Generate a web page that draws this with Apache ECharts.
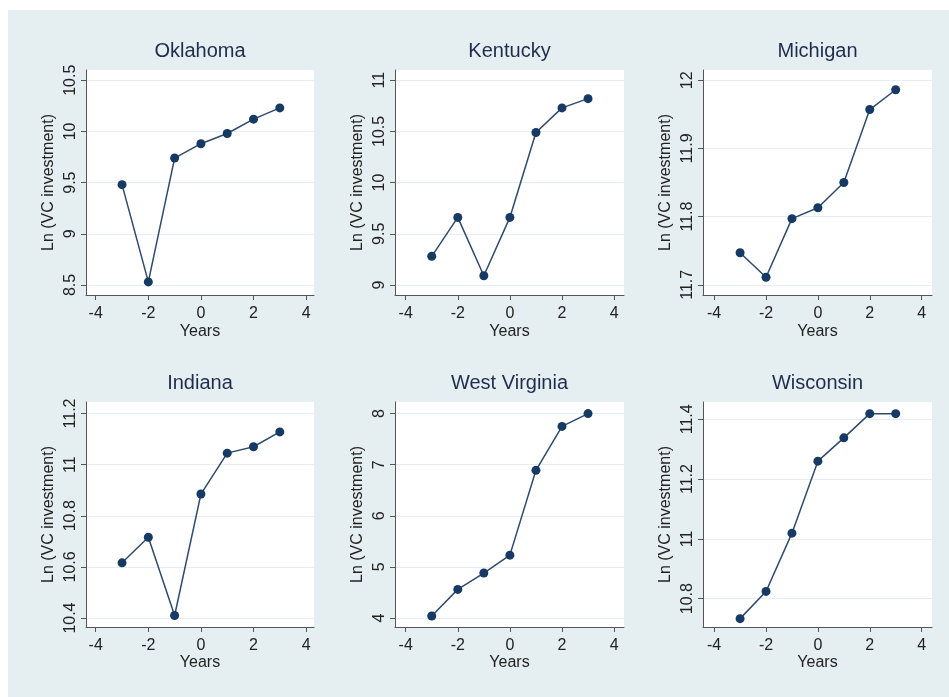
<!DOCTYPE html>
<html>
<head>
<meta charset="utf-8">
<script src="https://cdn.jsdelivr.net/npm/echarts@6/dist/echarts.min.js"></script>
<style>
html,body{margin:0;padding:0;background:#ffffff;}
#bg{position:absolute;left:8px;top:10px;width:941px;height:687px;background:#e5eef1;}
#chart{position:absolute;left:0;top:0;width:949px;height:697px;}
</style>
</head>
<body>
<div id="bg"></div>
<div id="chart"></div>
<script>
// ---- data ----
const years = [-3, -2, -1, 0, 1, 2, 3];
const stateNames = ["Oklahoma", "Kentucky", "Michigan", "Indiana", "West Virginia", "Wisconsin"];
const oklahoma = [9.48, 8.53, 9.74, 9.88, 9.98, 10.12, 10.23];
const kentucky = [9.28, 9.66, 9.09, 9.66, 10.49, 10.73, 10.82];
const michigan = [11.747, 11.711, 11.797, 11.813, 11.850, 11.957, 11.986];
const indiana = [10.616, 10.716, 10.41, 10.885, 11.045, 11.07, 11.128];
const westVirginia = [4.04, 4.56, 4.88, 5.23, 6.89, 7.75, 8.0];
const wisconsin = [10.733, 10.824, 11.019, 11.26, 11.338, 11.419, 11.419];
const xTicks = [-4, -2, 0, 2, 4];
const oklahomaTicks = [8.5, 9, 9.5, 10, 10.5];
const kentuckyTicks = [9, 9.5, 10, 10.5, 11];
const michiganTicks = [11.7, 11.8, 11.9, 12];
const indianaTicks = [10.4, 10.6, 10.8, 11, 11.2];
const westVirginiaTicks = [4, 5, 6, 7, 8];
const wisconsinTicks = [10.8, 11, 11.2, 11.4];
const yTitle = "Ln (VC investment)";
const xTitle = "Years";

// ---- layout (positions / ranges) ----
const seriesValues = [oklahoma, kentucky, michigan, indiana, westVirginia, wisconsin];
const yTickSets = [oklahomaTicks, kentuckyTicks, michiganTicks, indianaTicks, westVirginiaTicks, wisconsinTicks];
const yRanges = [[8.402, 10.6], [8.902, 11.1], [11.685, 12.015], [10.365, 11.245], [3.824, 8.227], [10.705, 11.458]];
const xRanges = [[-4.37, 4.30], [-4.41, 4.38], [-4.43, 4.40]];
const colLeft = [86, 395, 703];
const colWidth = [228, 229, 229];
const rowTop = [70, 402];
const plotH = 225;

const FONT = "Liberation Sans, Arial, sans-serif";
const grids = [], xAxes = [], yAxes = [], series = [], titles = [];
for (let i = 0; i < 6; i++) {
  const r = Math.floor(i / 3), c = i % 3;
  grids.push({left: colLeft[c], top: rowTop[r], width: colWidth[c], height: plotH,
    show: true, backgroundColor: '#ffffff', borderWidth: 0, containLabel: false});
  titles.push({text: stateNames[i], left: colLeft[c] + colWidth[c] / 2, top: rowTop[r] - 29,
    textAlign: 'center', padding: 0,
    textStyle: {fontFamily: FONT, fontSize: 20, fontWeight: 'normal', color: '#1f2d4d'}});
  xAxes.push({type: 'value', gridIndex: i, min: xRanges[c][0], max: xRanges[c][1],
    name: xTitle, nameLocation: 'middle', nameGap: r === 0 ? 29 : 28,
    nameTextStyle: {fontFamily: FONT, fontSize: 16, color: '#222'},
    axisLine: {show: true, onZero: false, lineStyle: {color: '#555', width: 1}},
    axisTick: {show: true, length: 5, customValues: xTicks, lineStyle: {color: '#555'}},
    axisLabel: {customValues: xTicks, margin: 11, fontFamily: FONT, fontSize: 16, color: '#222'},
    splitLine: {show: false}});
  yAxes.push({type: 'value', gridIndex: i, min: yRanges[i][0], max: yRanges[i][1],
    name: yTitle, nameLocation: 'middle', nameGap: 29, nameRotate: 90,
    nameTextStyle: {fontFamily: FONT, fontSize: 16, color: '#222'},
    axisLine: {show: true, onZero: false, lineStyle: {color: '#555', width: 1}},
    axisTick: {show: true, length: 5, customValues: yTickSets[i], lineStyle: {color: '#555'}},
    axisLabel: {customValues: yTickSets[i], rotate: 90, margin: 7, fontFamily: FONT, fontSize: 16, color: '#222'},
    splitLine: {show: true, lineStyle: {color: '#e5eef1', width: 1}}});
  series.push({type: 'line', xAxisIndex: i, yAxisIndex: i,
    data: years.map((y, k) => [y, seriesValues[i][k]]),
    symbol: 'circle', symbolSize: 9,
    itemStyle: {color: '#163a63'},
    lineStyle: {color: '#2e4a6e', width: 1.5},
    animation: false});
}

const chart = echarts.init(document.getElementById('chart'), null, {renderer: 'canvas'});
chart.setOption({
  backgroundColor: 'transparent',
  animation: false,
  title: titles,
  grid: grids,
  xAxis: xAxes,
  yAxis: yAxes,
  series: series
});
</script>
</body>
</html>
